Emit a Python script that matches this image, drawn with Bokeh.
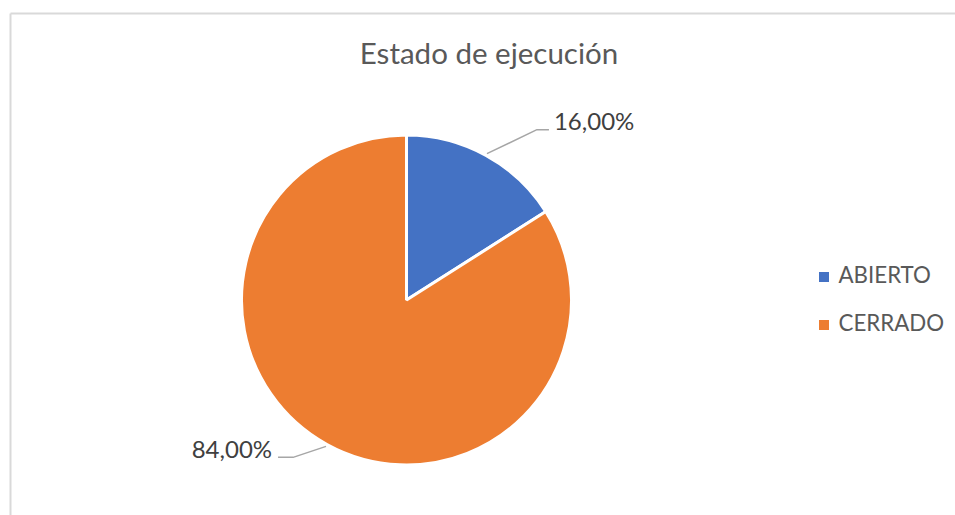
import math
from bokeh.plotting import figure
from bokeh.models import Range1d, ColumnDataSource
from bokeh.core.properties import value
from bokeh.embed import file_html
from bokeh.resources import INLINE

# ---- data ----
title = "Estado de ejecución"
categories = ["ABIERTO", "CERRADO"]
values = [16.0, 84.0]
colors = ["#4472C4", "#ED7D31"]

W, H = 955, 515
FONT = "Lato"
TSHIFT = 10  # correction of rendered baseline

def X(sx):
    return sx

def Y(sy):
    return H - sy

def YT(sy):
    return H - (sy - TSHIFT)

p = figure(width=W, height=H, output_backend="svg", toolbar_location=None,
           x_range=Range1d(0, W), y_range=Range1d(0, H),
           x_axis_type=None, y_axis_type=None, min_border=0,
           outline_line_color=None, background_fill_color="white",
           border_fill_color="white")
p.grid.visible = False

# chart border (cropped)
p.segment(x0=[X(10), X(10)], y0=[Y(13), Y(13)], x1=[X(10), X(990)], y1=[Y(560), Y(13)],
          line_color="#d9d9d9", line_width=2)

# pie
cx, cy, r = X(406), Y(299.5), 165
total = sum(values)
cum = [0.0]
for v in values:
    cum.append(cum[-1] + v / total * 2 * math.pi)
starts = [math.pi / 2 - cum[i + 1] for i in range(len(values))]
ends = [math.pi / 2 - cum[i] for i in range(len(values))]
src = ColumnDataSource(dict(start=starts, end=ends, color=colors))
p.wedge(x=cx, y=cy, radius=r, start_angle="start", end_angle="end",
        direction="anticlock", fill_color="color", line_color="white",
        line_width=3, source=src)

# leader lines and data labels
labels = [f"{v:.2f}".replace(".", ",") + "%" for v in values]
mids = [(cum[i] + cum[i + 1]) / 2 for i in range(len(values))]
offsets = [((50, -24), (12, 0)), ((-33, 11), (-15, 0))]
xs, ys = [], []
lab_x, lab_y, lab_align = [], [], []
for i, m in enumerate(mids):
    sx = 406 + (r + 2) * math.sin(m)
    sy = 299.5 - (r + 2) * math.cos(m)
    (e1x, e1y), (e2x, e2y) = offsets[i]
    ex, ey = sx + e1x, sy + e1y
    fx, fy = ex + e2x, ey + e2y
    xs.append([X(sx), X(ex), X(fx)])
    ys.append([Y(sy), Y(ey), Y(fy)])
    if math.sin(m) >= 0:
        lab_x.append(X(fx + 5)); lab_align.append("left")
    else:
        lab_x.append(X(fx - 6)); lab_align.append("right")
    lab_y.append(YT(fy + 1))
p.multi_line(xs=xs, ys=ys, line_color="#a6a6a6", line_width=1.5)
p.text(x=lab_x, y=lab_y, text=labels, text_align=lab_align,
       text_baseline="alphabetic", text_font=value(FONT),
       text_font_size="24px", text_color="#404040")

# title
p.text(x=[X(488.5)], y=[YT(61.5)], text=[title], text_align="center",
       text_baseline="alphabetic", text_font=value(FONT),
       text_font_size="29.5px", text_color="#595959")

# legend
leg_y = [Y(276.5 + 48 * i) for i in range(len(categories))]
p.scatter(x=[X(823.5)] * len(categories), y=leg_y, marker="square", size=10,
          fill_color=colors, line_color=None)
p.text(x=[X(838)] * len(categories), y=[YT(284 + 48 * i) for i in range(len(categories))],
       text=categories, text_align="left", text_baseline="alphabetic",
       text_font=value(FONT), text_font_size="22.3px", text_color="#595959")

open("out.html", "w").write(file_html(p, INLINE))
